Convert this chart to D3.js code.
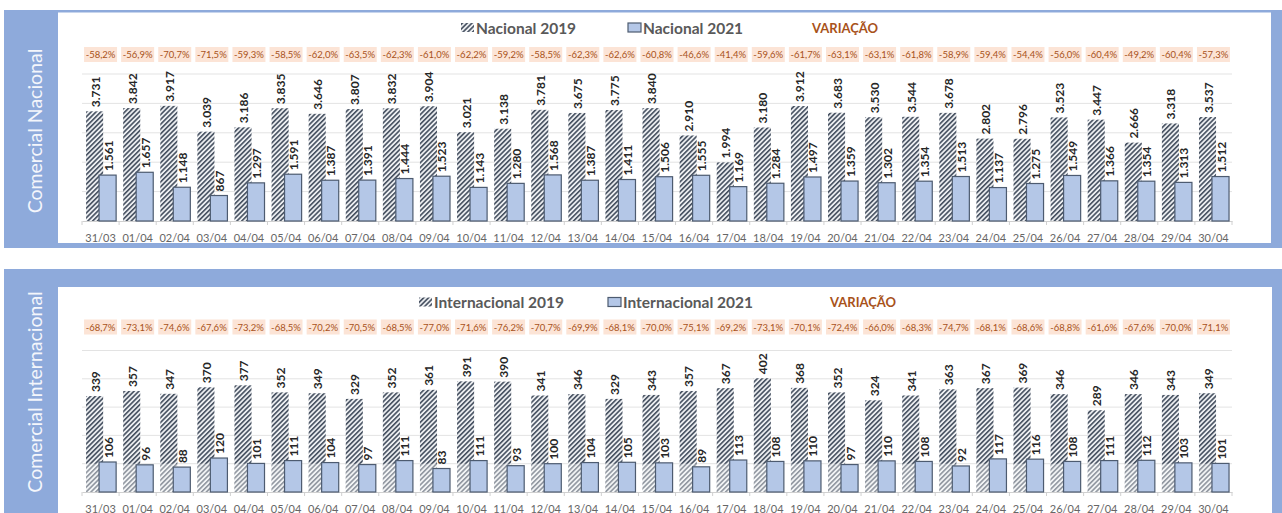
<!DOCTYPE html>
<html><head><meta charset="utf-8">
<script src="https://cdn.jsdelivr.net/npm/d3@7"></script>
<style>
html,body{margin:0;padding:0;background:#fff;}
svg{display:block;font-family:Lato, "Liberation Sans", sans-serif;}
</style></head>
<body>
<svg id="c" width="1282" height="513"></svg>
<script>
const categories = ["31/03","01/04","02/04","03/04","04/04","05/04","06/04","07/04","08/04","09/04","10/04","11/04","12/04","13/04","14/04","15/04","16/04","17/04","18/04","19/04","20/04","21/04","22/04","23/04","24/04","25/04","26/04","27/04","28/04","29/04","30/04"];
const nacional2019 = [3731,3842,3917,3039,3186,3835,3646,3807,3832,3904,3021,3138,3781,3675,3775,3840,2910,1994,3180,3912,3683,3530,3544,3678,2802,2796,3523,3447,2666,3318,3537];
const nacional2021 = [1561,1657,1148,867,1297,1591,1387,1391,1444,1523,1143,1280,1568,1387,1411,1506,1555,1169,1284,1497,1359,1302,1354,1513,1137,1275,1549,1366,1354,1313,1512];
const nacionalVariacao = ["-58,2%","-56,9%","-70,7%","-71,5%","-59,3%","-58,5%","-62,0%","-63,5%","-62,3%","-61,0%","-62,2%","-59,2%","-58,5%","-62,3%","-62,6%","-60,8%","-46,6%","-41,4%","-59,6%","-61,7%","-63,1%","-63,1%","-61,8%","-58,9%","-59,4%","-54,4%","-56,0%","-60,4%","-49,2%","-60,4%","-57,3%"];
const internacional2019 = [339,357,347,370,377,352,349,329,352,361,391,390,341,346,329,343,357,367,402,368,352,324,341,363,367,369,346,289,346,343,349];
const internacional2021 = [106,96,88,120,101,111,104,97,111,83,111,93,100,104,105,103,89,113,108,110,97,110,108,92,117,116,108,111,112,103,101];
const internacionalVariacao = ["-68,7%","-73,1%","-74,6%","-67,6%","-73,2%","-68,5%","-70,2%","-70,5%","-68,5%","-77,0%","-71,6%","-76,2%","-70,7%","-69,9%","-68,1%","-70,0%","-75,1%","-69,2%","-73,1%","-70,1%","-72,4%","-66,0%","-68,3%","-74,7%","-68,1%","-68,6%","-68,8%","-61,6%","-67,6%","-70,0%","-71,1%"];
const nacionalTicks = [0,1000,2000,3000,4000,5000];
const internacionalTicks = [0,100,200,300,400,500];

const loc = d3.formatLocale({decimal:",", thousands:".", grouping:[3], currency:["",""]});
const fmt = loc.format(",d");

const svg = d3.select("#c");
const defs = svg.append("defs");
const pat = defs.append("pattern").attr("id","hatch").attr("patternUnits","userSpaceOnUse")
  .attr("width",3.4).attr("height",3.4).attr("patternTransform","rotate(45)");
pat.append("rect").attr("width",3.4).attr("height",3.4).attr("fill","#eceef1");
pat.append("line").attr("x1",0.8).attr("y1",0).attr("x2",0.8).attr("y2",3.4).attr("stroke","#3a4556").attr("stroke-width",1.5);

const BLUE = "#8eaadb";

function panel(cfg){
  const g = svg.append("g");
  g.append("rect").attr("x",4).attr("y",cfg.frameTop).attr("width",1290).attr("height",cfg.frameBottom-cfg.frameTop).attr("fill",BLUE);
  g.append("rect").attr("x",58).attr("y",cfg.innerTop).attr("width",cfg.innerRight-58).attr("height",cfg.innerBottom-cfg.innerTop).attr("fill","#fff");
  g.append("text").attr("transform",`translate(34,${cfg.sideY}) rotate(-90)`)
    .attr("text-anchor","middle").attr("dominant-baseline","central")
    .attr("font-size",19.5).attr("fill","#f4f6fb").attr("font-family","Lato, 'Open Sans', sans-serif")
    .text(cfg.side);

  const x = d3.scaleBand().domain(categories).range([82,1232]).padding(0);
  const y = d3.scaleLinear().domain([0,cfg.max]).range([cfg.y0,cfg.yTop]);
  const bw = x.bandwidth();
  const barW = bw*0.46;
  const c = d => x(d)+bw/2;

  g.append("g").selectAll("line").data(cfg.ticks.slice(1)).join("line")
    .attr("x1",82).attr("x2",1232).attr("y1",d=>y(d)).attr("y2",d=>y(d))
    .attr("stroke","#e3e3e3").attr("stroke-width",1);

  const ax = g.append("g").attr("transform",`translate(0,${y(0)})`)
    .call(d3.axisBottom(x).tickSize(0).tickPadding(0));
  ax.select(".domain").attr("stroke","#d0d0d0");
  ax.selectAll(".tick text").attr("font-size",11).attr("fill","#666")
    .attr("font-family","Lato, sans-serif").attr("dy",0).attr("y",cfg.tickY - cfg.y0)
    .attr("dominant-baseline","central");
  g.append("g").selectAll("line").data(categories).join("line")
    .attr("x1",d=>x(d)).attr("x2",d=>x(d)).attr("y1",y(0)).attr("y2",y(0)+4)
    .attr("stroke","#d0d0d0");
  g.append("line").attr("x1",1232).attr("x2",1232).attr("y1",y(0)).attr("y2",y(0)+4).attr("stroke","#d0d0d0");

  g.append("g").selectAll("rect").data(categories).join("rect")
    .attr("x",d=>c(d)-bw*0.39).attr("width",barW)
    .attr("y",(d,i)=>y(cfg.a[i])).attr("height",(d,i)=>y(0)-y(cfg.a[i]))
    .attr("fill","url(#hatch)");
  if (cfg.fadeBelow){
    g.append("g").selectAll("rect").data(categories).join("rect")
      .attr("x",d=>c(d)-bw*0.39).attr("width",barW)
      .attr("y",y(cfg.fadeBelow)).attr("height",y(0)-y(cfg.fadeBelow))
      .attr("fill","#fff").attr("opacity",0.4);
  }
  g.append("g").selectAll("rect").data(categories).join("rect")
    .attr("x",d=>c(d)-bw*0.04).attr("width",barW)
    .attr("y",(d,i)=>y(cfg.b[i])).attr("height",(d,i)=>y(0)-y(cfg.b[i]))
    .attr("fill","#b4c7e7").attr("stroke","#4d5b70").attr("stroke-width",1.2);

  const lab = (arr,dx) => g.append("g").selectAll("text").data(categories).join("text")
    .attr("transform",(d,i)=>`translate(${c(d)+dx},${y(arr[i])-4}) rotate(-90)`)
    .attr("text-anchor","start").attr("dominant-baseline","central")
    .attr("font-size",12).attr("font-weight","bold").attr("fill","#262626")
    .text((d,i)=>fmt(arr[i]));
  lab(cfg.a, -bw*0.39+barW/2+0.5);
  lab(cfg.b, -bw*0.04+barW/2+0.5);

  const vb = g.append("g").selectAll("g").data(categories).join("g")
    .attr("transform",d=>`translate(${c(d)},${cfg.varY})`);
  vb.append("rect").attr("x",-16.5).attr("y",-7.5).attr("width",33).attr("height",15).attr("fill","#fce4d6");
  vb.append("text").attr("text-anchor","middle").attr("dominant-baseline","central")
    .attr("font-size",9.5).attr("fill","#a8521a").text((d,i)=>cfg.v[i]);

  const lg = g.append("g").attr("transform",`translate(0,${cfg.legY})`);
  lg.append("rect").attr("x",cfg.leg1).attr("y",-4.5).attr("width",13).attr("height",9).attr("fill","url(#hatch)");
  lg.append("text").attr("x",cfg.leg1+15).attr("dominant-baseline","central").attr("font-size",15.5)
    .attr("font-weight","bold").attr("fill","#595959").text(cfg.n1);
  lg.append("rect").attr("x",cfg.leg2).attr("y",-4.5).attr("width",13).attr("height",9).attr("fill","#b4c7e7").attr("stroke","#4d5b70").attr("stroke-width",1.2);
  lg.append("text").attr("x",cfg.leg2+15).attr("dominant-baseline","central").attr("font-size",15.5)
    .attr("font-weight","bold").attr("fill","#595959").text(cfg.n2);
  lg.append("text").attr("x",cfg.leg3).attr("dominant-baseline","central").attr("font-size",13)
    .attr("font-weight","bold").attr("fill","#a8521a").text("VARIAÇÃO");
}

panel({frameTop:10, frameBottom:248, innerTop:12.5, innerBottom:243, innerRight:1271,
  side:"Comercial Nacional", sideY:131, max:5000, ticks:nacionalTicks, y0:221, yTop:74,
  tickY:237, varY:54.5, legY:27.5, leg1:461, leg2:628, leg3:812,
  a:nacional2019, b:nacional2021, v:nacionalVariacao, n1:"Nacional 2019", n2:"Nacional 2021"});

panel({frameTop:269, frameBottom:520, innerTop:287, innerBottom:520, innerRight:1272,
  side:"Comercial Internacional", sideY:392, max:500, ticks:internacionalTicks, y0:492, yTop:350.5,
  tickY:508, varY:327, legY:302, leg1:419, leg2:608, leg3:830, fadeBelow:100,
  a:internacional2019, b:internacional2021, v:internacionalVariacao, n1:"Internacional 2019", n2:"Internacional 2021"});
</script>
</body></html>
